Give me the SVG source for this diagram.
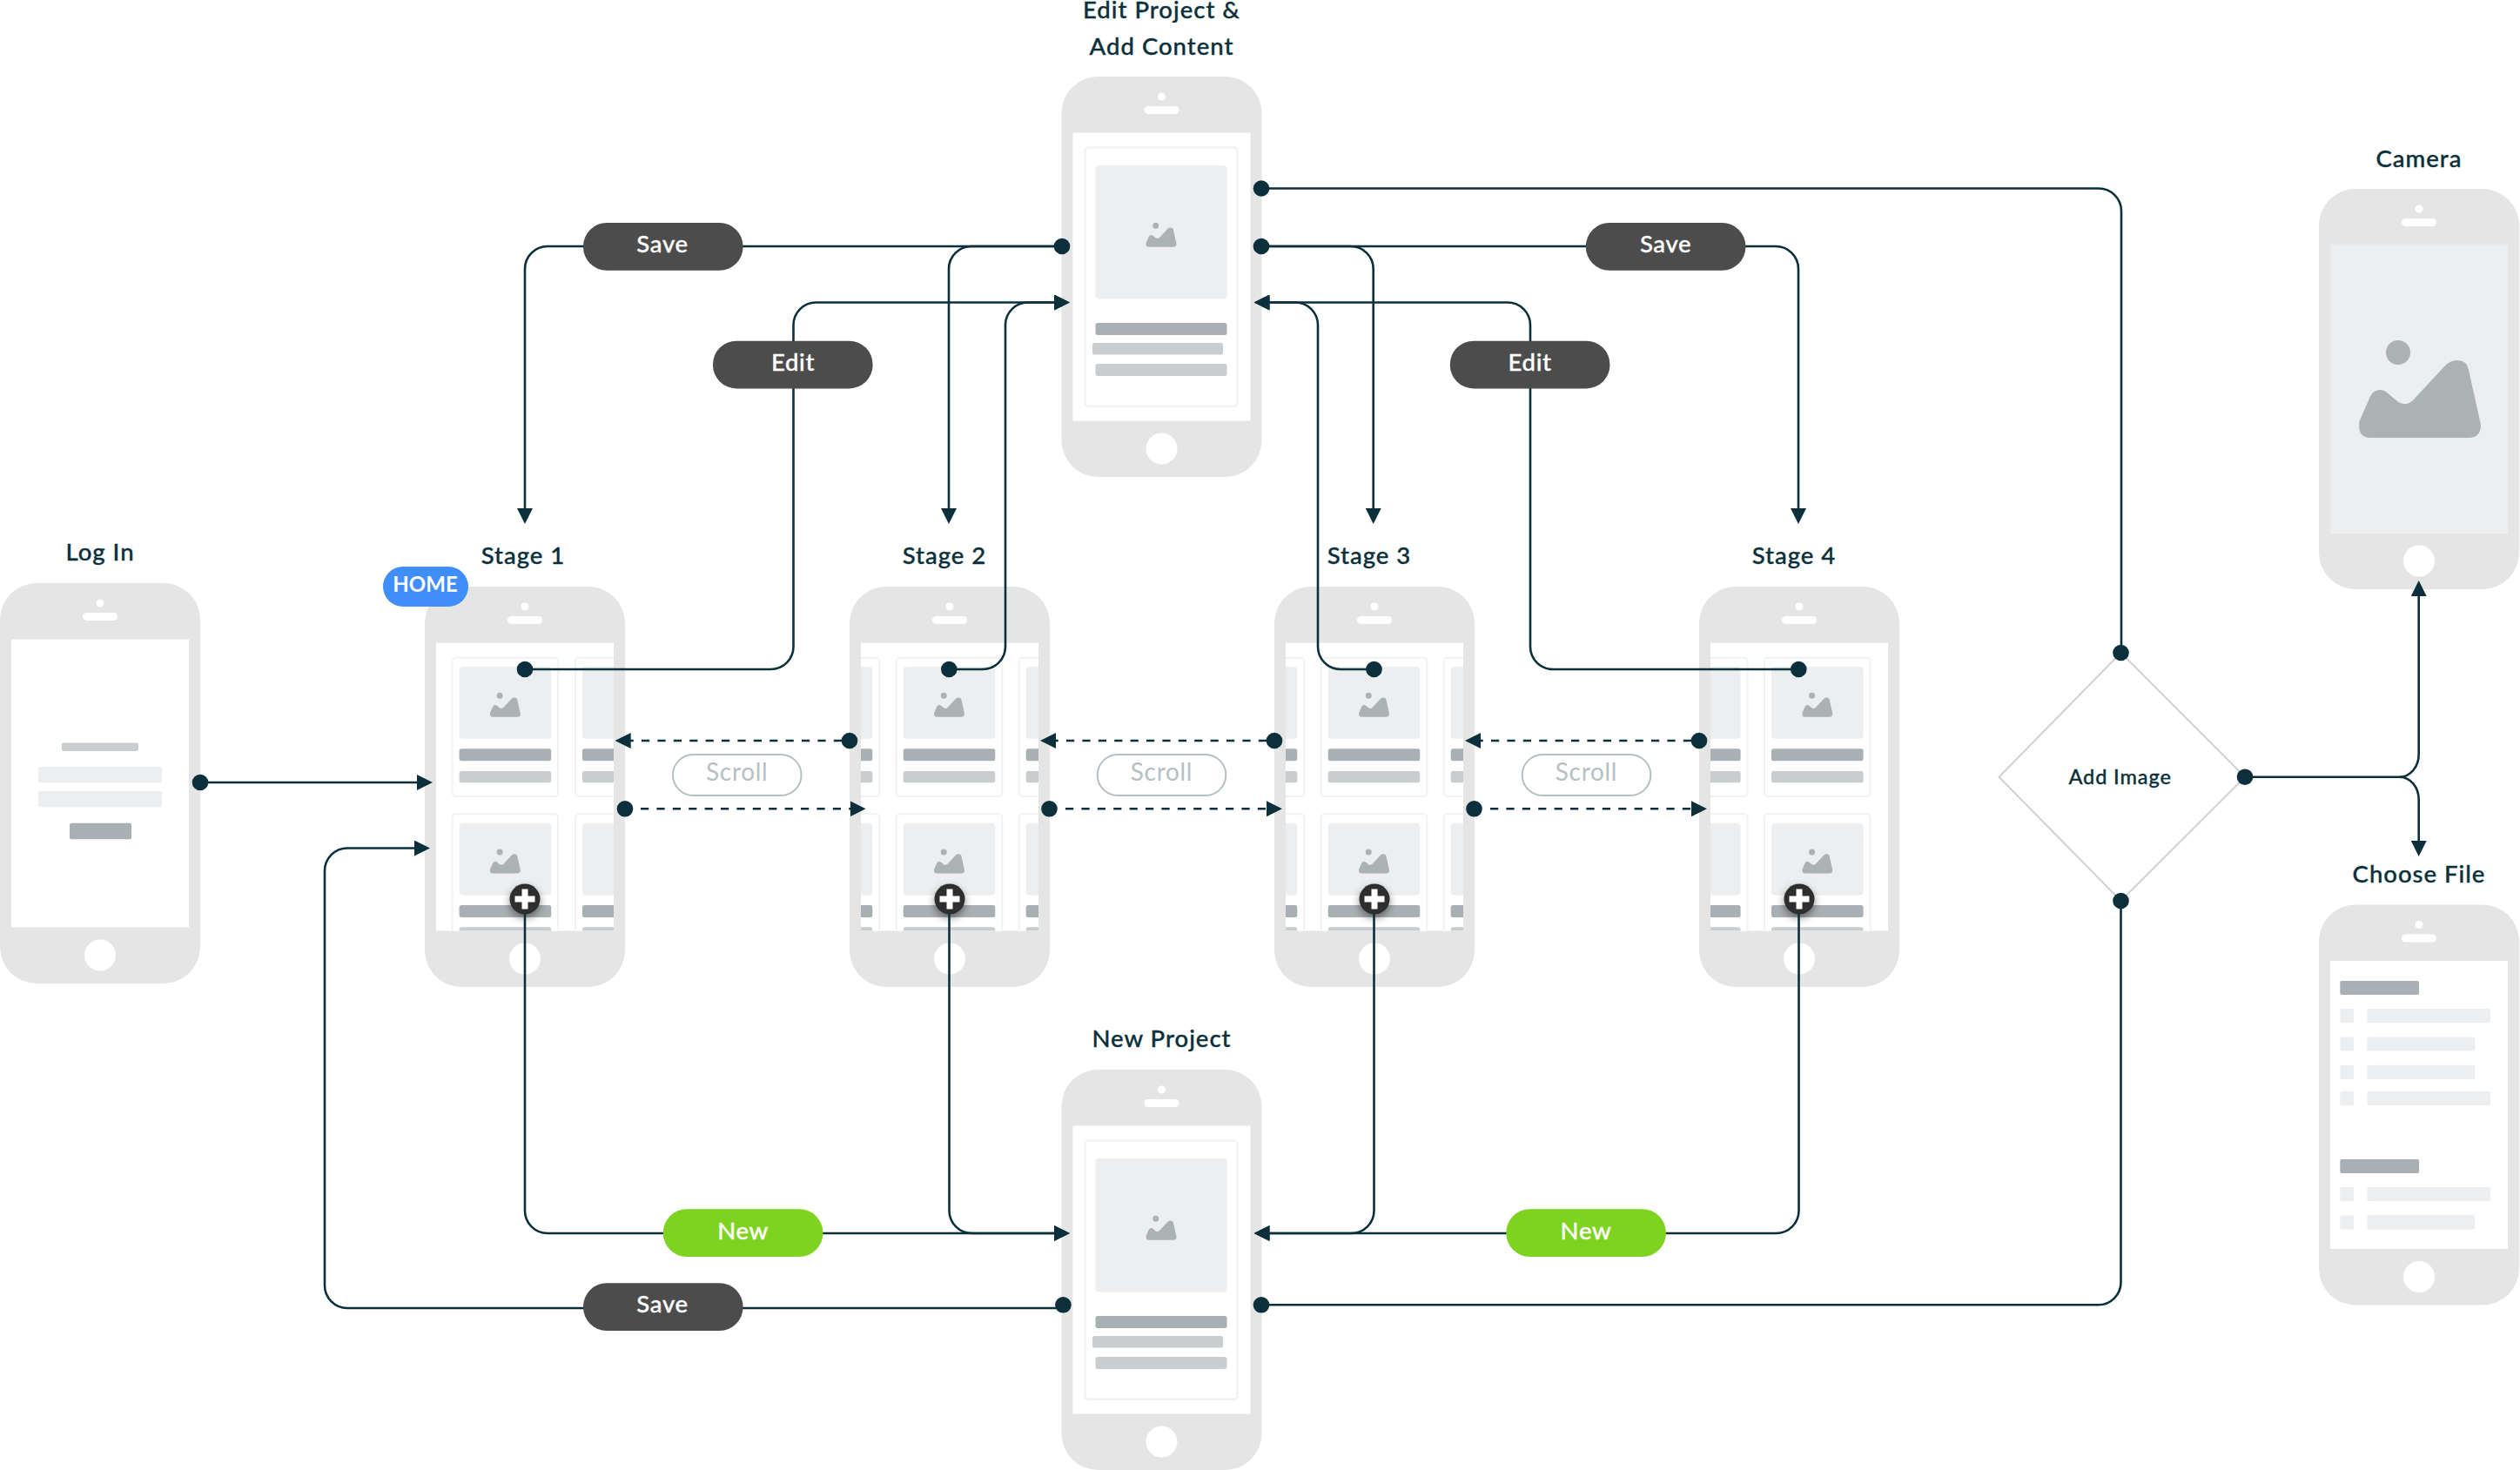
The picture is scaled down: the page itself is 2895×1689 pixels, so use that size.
<svg xmlns="http://www.w3.org/2000/svg" xmlns:xlink="http://www.w3.org/1999/xlink" width="2895" height="1689" viewBox="0 0 2895 1689">
<style>
text{font-family:"Lato","Liberation Sans",sans-serif;text-anchor:middle}
.lbl{font-size:27.5px;font-weight:500;fill:#0b303b;stroke:#0b303b;stroke-width:.35px;letter-spacing:1px}
.pt{font-size:27.5px;font-weight:500;fill:#fff;stroke:#fff;stroke-width:.35px;letter-spacing:.7px}
.st{font-size:28px;font-weight:400;fill:#b5c0c4;letter-spacing:.7px}
.ln{fill:none;stroke:#0b303b;stroke-width:2.6}
.arr{marker-end:url(#ah)}
.dash{stroke-dasharray:9.2 9.2}
.dot{fill:#0b303b}
.d{fill:#a9b0b3}.c{fill:#c9cdd0}.l{fill:#edeef0}
.card{fill:#fff;stroke:#f1f2f3;stroke-width:2}
</style>
<defs>
<marker id="ah" markerUnits="userSpaceOnUse" markerWidth="18" markerHeight="18" refX="4" refY="9" orient="auto"><path d="M0 0L18 9L0 18Z" fill="#0b303b"/></marker>
<clipPath id="sc"><rect x="13" y="64.5" width="204" height="331"/></clipPath>
<filter id="sh" x="-60%" y="-60%" width="220%" height="220%"><feDropShadow dx="0" dy="4" stdDeviation="5" flood-color="#000" flood-opacity=".45"/></filter>
<g id="phone">
<rect width="230" height="460" rx="42" fill="#e5e5e5"/>
<circle cx="115" cy="23" r="4.5" fill="#fff"/>
<rect x="95" y="34" width="40" height="9" rx="4.5" fill="#fff"/>
<circle cx="115" cy="427.5" r="18" fill="#fff"/>
<rect x="13" y="64.5" width="204" height="331" fill="#fff"/>
</g>
<path id="mtn" d="M.5 92L11 68Q15 56 24 56Q29 56 32 59L44 69Q53 76 62 68L100 27Q106 22 113 22Q124 22 126 33L140 96Q140 111 126 111L13 111Q-2 111 .5 92ZM59 13A14 14 0 1 1 31 13A14 14 0 1 1 59 13Z" fill="#abb2b4"/>
<g id="cardbase">
<rect class="card" y="81.7" width="121.6" height="159.3" rx="4"/>
<rect class="l" x="8" y="92" width="105.6" height="82.7" rx="4"/>
<rect class="d" x="8" y="186.3" width="105.6" height="14" rx="2.5"/>
<rect class="c" x="8" y="212" width="105.6" height="13.3" rx="2.5"/>
<rect class="card" y="261.3" width="121.6" height="159.3" rx="4"/>
<rect class="l" x="8" y="271.7" width="105.6" height="82.7" rx="4"/>
<rect class="d" x="8" y="366" width="105.6" height="14" rx="2.5"/>
<rect class="c" x="8" y="391.3" width="105.6" height="13.3" rx="2.5"/>
</g>
<g id="cardpair">
<use href="#cardbase"/>
<use href="#mtn" transform="translate(43.3 122) scale(.25)"/>
<use href="#mtn" transform="translate(43.3 301.7) scale(.25)"/>
</g>
<g id="plus" filter="url(#sh)">
<circle cx="115" cy="359" r="17.5" fill="#2e2e2e"/>
<path d="M103.5 355.5H111.5V347.5H118.5V355.5H126.5V362.5H118.5V370.5H111.5V362.5H103.5Z" fill="#fff"/>
</g>
<g id="project">
<use href="#phone"/>
<rect x="27" y="81.6" width="175" height="297.2" rx="4" fill="#fff" stroke="#f1f2f3" stroke-width="2.5"/>
<rect class="l" x="39" y="102" width="151" height="153.6" rx="4"/>
<rect class="d" x="39" y="283" width="151" height="14" rx="2.5"/>
<rect class="c" x="35.5" y="306" width="150" height="13.5" rx="2.5"/>
<rect class="c" x="39" y="330" width="151" height="14" rx="2.5"/>
<use href="#mtn" transform="translate(97 168) scale(.25)"/>
</g>
</defs>
<rect width="2895" height="1689" fill="#fff"/>

<g id="node-login">
<use href="#phone" x="0" y="670"/>
<rect class="c" x="71" y="853.6" width="88" height="9.4" rx="2"/>
<rect class="l" x="44" y="881" width="142" height="18.5" rx="2"/>
<rect class="l" x="44" y="909" width="142" height="18.5" rx="2"/>
<rect class="d" x="80" y="945.7" width="71" height="18.5" rx="2"/>
<text class="lbl" x="115" y="644">Log In</text>
</g>
<g id="node-stage1" transform="translate(488 674)">
<use href="#phone"/>
<g clip-path="url(#sc)"><use href="#cardpair" x="31.6"/><use href="#cardbase" x="173"/></g>
<use href="#plus"/>
<text class="lbl" x="113" y="-26">Stage 1</text>
</g>
<g id="node-stage2" transform="translate(976 674)">
<use href="#phone"/>
<g clip-path="url(#sc)"><use href="#cardpair" x="-87.3"/><use href="#cardpair" x="53.7"/><use href="#cardpair" x="194.7"/></g>
<use href="#plus"/>
<text class="lbl" x="109" y="-26">Stage 2</text>
</g>
<g id="node-stage3" transform="translate(1464 674)">
<use href="#phone"/>
<g clip-path="url(#sc)"><use href="#cardpair" x="-87.3"/><use href="#cardpair" x="53.7"/><use href="#cardpair" x="194.7"/></g>
<use href="#plus"/>
<text class="lbl" x="109" y="-26">Stage 3</text>
</g>
<g id="node-stage4" transform="translate(1952 674)">
<use href="#phone"/>
<g clip-path="url(#sc)"><use href="#cardpair" x="-66"/><use href="#cardpair" x="75"/></g>
<use href="#plus"/>
<text class="lbl" x="109" y="-26">Stage 4</text>
</g>
<g id="node-edit" transform="translate(1219.5 88)">
<use href="#project"/>
<text class="lbl" x="115" y="-67.3">Edit Project &amp;</text>
<text class="lbl" x="115" y="-24.8">Add Content</text>
</g>
<g id="node-new" transform="translate(1219.5 1229)">
<use href="#project"/>
<text class="lbl" x="115" y="-26">New Project</text>
</g>
<g id="node-camera" transform="translate(2664 217)">
<use href="#phone"/>
<rect class="l" x="13" y="63.5" width="204" height="332"/>
<use href="#mtn" transform="translate(46 175)"/>
<text class="lbl" x="115" y="-25.4">Camera</text>
</g>
<g id="node-choose" transform="translate(2664 1039.5)">
<use href="#phone"/>
<g fill="#edeef0">
<rect x="24.3" y="119.5" width="15.7" height="16.2" rx="2"/><rect x="55.3" y="119.5" width="141.7" height="16.2" rx="2"/>
<rect x="24.3" y="151.9" width="15.7" height="16.2" rx="2"/><rect x="55.3" y="151.9" width="124" height="16.2" rx="2"/>
<rect x="24.3" y="184.3" width="15.7" height="16.2" rx="2"/><rect x="55.3" y="184.3" width="124" height="16.2" rx="2"/>
<rect x="24.3" y="214.3" width="15.7" height="16.2" rx="2"/><rect x="55.3" y="214.3" width="141.7" height="16.2" rx="2"/>
<rect x="24.3" y="324.5" width="15.7" height="16.2" rx="2"/><rect x="55.3" y="324.5" width="141.7" height="16.2" rx="2"/>
<rect x="24.3" y="356.8" width="15.7" height="16.2" rx="2"/><rect x="55.3" y="356.8" width="124" height="16.2" rx="2"/>
</g>
<rect class="d" x="24.3" y="87.5" width="90.7" height="16" rx="2"/>
<rect class="d" x="24.3" y="292.5" width="90.7" height="16" rx="2"/>
<text class="lbl" x="115" y="-25.1">Choose File</text>
</g>
<g id="node-addimage">
<path d="M2436.5 750L2579 892.7L2436.5 1035L2296.5 892.7Z" fill="#fff" stroke="#cfd1d2" stroke-width="2" stroke-linejoin="round"/>
<text x="2435.6" y="901" style="font-size:23.5px;font-weight:500;fill:#0b303b;stroke:#0b303b;stroke-width:.3px;letter-spacing:.9px">Add Image</text>
</g>

<g id="connectors">
<path class="ln arr" d="M230 899H483"/>
<path class="ln arr" d="M1221 1503H399A26 26 0 0 1 373 1477V1000.5A26 26 0 0 1 399 974.5H480"/>
<path class="ln arr" d="M1220 283H629A26 26 0 0 0 603 309V588"/>
<path class="ln arr" d="M1220 283H1116A26 26 0 0 0 1090 309V588"/>
<path class="ln arr" d="M603 769H885.5A26 26 0 0 0 911.5 743V373.5A26 26 0 0 1 937.5 347.5H1215"/>
<path class="ln arr" d="M1090.3 769H1129A26 26 0 0 0 1155 743V373.5A26 26 0 0 1 1181 347.5H1215"/>
<path class="ln arr" d="M1578.5 769H1540A26 26 0 0 1 1514 743V373.5A26 26 0 0 0 1488 347.5H1454.5"/>
<path class="ln arr" d="M2066.3 769H1784A26 26 0 0 1 1758 743V373.5A26 26 0 0 0 1732 347.5H1454.5"/>
<path class="ln arr" d="M1449 283H1551.7A26 26 0 0 1 1577.7 309V588"/>
<path class="ln arr" d="M1449 283H2040A26 26 0 0 1 2066 309V588"/>
<path class="ln" d="M1449 216.5H2411A26 26 0 0 1 2437 242.5V750"/>
<path class="ln" d="M2436.5 1035V1473A26 26 0 0 1 2410.5 1499.3H1449"/>
<path class="ln arr" d="M2579 892.7H2757A22 26 0 0 0 2778.7 866.7V681"/>
<path class="ln arr" d="M2757 892.7A22 26 0 0 1 2778.7 918.7V970"/>
<path class="ln arr" d="M603 1050V1391A26 26 0 0 0 629 1417H1215"/>
<path class="ln arr" d="M1090.5 1050V1391A26 26 0 0 0 1116.5 1417H1215"/>
<path class="ln arr" d="M1578.5 1050V1391A26 26 0 0 1 1552.5 1417H1454.5"/>
<path class="ln arr" d="M2066.5 1050V1391A26 26 0 0 1 2040.5 1417H1454.5"/>
<path class="ln arr dash" d="M967 851H720.7"/>
<path class="ln arr dash" d="M736 929.3H980.6"/>
<path class="ln arr dash" d="M1455 851H1209"/>
<path class="ln arr dash" d="M1224 929.3H1459"/>
<path class="ln arr dash" d="M1943 851H1697"/>
<path class="ln arr dash" d="M1712 929.3H1947"/>
<g class="dot">
<circle cx="230" cy="899" r="9.3"/>
<circle cx="1220" cy="283" r="9.3"/><circle cx="1449" cy="283" r="9.3"/><circle cx="1449" cy="216.5" r="9.3"/>
<circle cx="603" cy="769" r="9.3"/><circle cx="1090.3" cy="769" r="9.3"/><circle cx="1578.5" cy="769" r="9.3"/><circle cx="2066.3" cy="769" r="9.3"/>
<circle cx="976" cy="851" r="9.3"/><circle cx="1464" cy="851" r="9.3"/><circle cx="1952" cy="851" r="9.3"/>
<circle cx="718" cy="929.3" r="9.3"/><circle cx="1205.5" cy="929.3" r="9.3"/><circle cx="1693.5" cy="929.3" r="9.3"/>
<circle cx="1221.4" cy="1499.3" r="9.3"/><circle cx="1449" cy="1499.3" r="9.3"/>
<circle cx="2436.5" cy="750" r="9.3"/><circle cx="2436.5" cy="1035" r="9.3"/><circle cx="2579" cy="892.7" r="9.3"/>
</g>
</g>

<g id="pill-home"><rect x="440" y="651" width="98" height="46" rx="23" fill="#3f8efc"/><text x="488.5" y="680" style="font-size:24px;font-weight:700;fill:#fff">HOME</text></g>
<g id="pill-save-1"><rect x="670" y="256" width="183.6" height="54.7" rx="27" fill="#4c4c4c"/><text class="pt" x="761" y="290">Save</text></g>
<g id="pill-save-2"><rect x="1821.8" y="256" width="183.6" height="54.7" rx="27" fill="#4c4c4c"/><text class="pt" x="1913.6" y="290">Save</text></g>
<g id="pill-save-3"><rect x="670" y="1474.3" width="183.6" height="54.7" rx="27" fill="#4c4c4c"/><text class="pt" x="761" y="1508.3">Save</text></g>
<g id="pill-edit-1"><rect x="819" y="391.7" width="183.6" height="54.7" rx="27" fill="#4c4c4c"/><text class="pt" x="911" y="425.7">Edit</text></g>
<g id="pill-edit-2"><rect x="1665.8" y="391.7" width="183.6" height="54.7" rx="27" fill="#4c4c4c"/><text class="pt" x="1757.6" y="425.7">Edit</text></g>
<g id="pill-new-1"><rect x="761.8" y="1389.3" width="183.6" height="54.7" rx="27" fill="#7ed321"/><text class="pt" x="853.6" y="1424">New</text></g>
<g id="pill-new-2"><rect x="1730.3" y="1389.3" width="183.6" height="54.7" rx="27" fill="#7ed321"/><text class="pt" x="1822" y="1424">New</text></g>
<g id="pill-scroll-1"><rect x="773" y="867" width="147.6" height="47" rx="23.5" fill="#fff" stroke="#b5c0c4" stroke-width="2"/><text class="st" x="846.7" y="897">Scroll</text></g>
<g id="pill-scroll-2"><rect x="1260.7" y="867" width="147.6" height="47" rx="23.5" fill="#fff" stroke="#b5c0c4" stroke-width="2"/><text class="st" x="1334.5" y="897">Scroll</text></g>
<g id="pill-scroll-3"><rect x="1748.7" y="867" width="147.6" height="47" rx="23.5" fill="#fff" stroke="#b5c0c4" stroke-width="2"/><text class="st" x="1822.5" y="897">Scroll</text></g>
</svg>
